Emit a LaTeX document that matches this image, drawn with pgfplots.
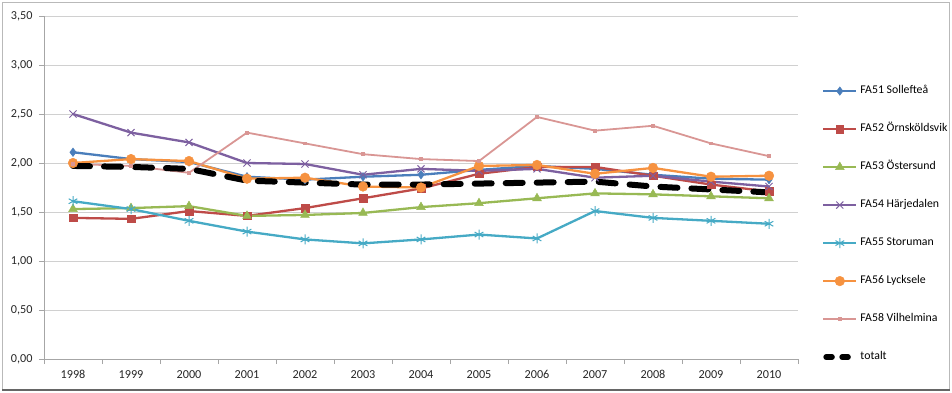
\documentclass[border=0pt]{standalone}
\usepackage{pgfplots}
\pgfplotsset{compat=1.18}
\usepackage{fontspec}
\setmainfont{Carlito}
\definecolor{cBlue}{HTML}{4A7EBB}
\definecolor{cRed}{HTML}{BE4B48}
\definecolor{cGreen}{HTML}{98B954}
\definecolor{cPurple}{HTML}{7D60A0}
\definecolor{cAqua}{HTML}{46AAC5}
\definecolor{cOrange}{HTML}{F69240}
\definecolor{cPink}{HTML}{D99694}
\definecolor{cGrid}{HTML}{D0D0D0}
\definecolor{cAxis}{HTML}{A6A6A6}
\begin{document}
\begin{tikzpicture}[x=1pt,y=1pt]
\path[use as bounding box] (0,0) rectangle (952,392);
\draw[gray!55, line width=1pt] (2.5,2.5) rectangle (949.5,389.5);
\draw[gray!80!black, line width=2pt] (2,2.5) -- (950,2.5);
\begin{axis}[
  at={(44pt,33pt)}, anchor=south west,
  scale only axis, width=754pt, height=343pt,
  xmin=-0.5, xmax=12.5, ymin=0, ymax=3.5,
  axis lines*=left,
  axis line style={cAxis, line width=0.8pt},
  ytick={0,0.5,...,3.5},
  ymajorgrids, grid style={cGrid, line width=0.8pt},
  xtick={0,...,12},
  xticklabels={1998,1999,2000,2001,2002,2003,2004,2005,2006,2007,2008,2009,2010},
  minor xtick={-0.5,0.5,...,12.5},
  major x tick style={draw=none},
  tick align=outside, major tick length=5pt, minor tick length=5pt,
  tick style={cAxis, line width=0.8pt},
  y tick label style={xshift=-3pt, /pgf/number format/.cd, use comma, fixed, fixed zerofill, precision=2},
  x tick label style={yshift=-3pt},
  /pgf/number format/assume math mode=true,
  tick label style={font=\fontsize{12.2}{14}\selectfont, black!85},
  legend style={at={(1.0318,0.797)}, anchor=north west, draw=none, fill=none,
    inner sep=0pt, row sep=27.5pt, font=\fontsize{11.8}{13}\selectfont,
    nodes={inner sep=0pt, text height=8pt, text depth=2.5pt},
    /tikz/every odd column/.append style={column sep=3pt}},
  legend cell align=left,
  legend image code/.code={\draw[mark repeat=2, mark phase=2, #1] plot coordinates {(0pt,0pt)(16.5pt,0pt)(33pt,0pt)};},
]
\addplot[cBlue, line width=2.3pt, mark=diamond*, mark size=4.2pt, mark options={solid, fill=cBlue, line width=0.5pt}]
 coordinates {(0,2.11)(1,2.04)(2,2.01)(3,1.86)(4,1.83)(5,1.86)(6,1.88)(7,1.93)(8,1.97)(9,1.94)(10,1.88)(11,1.84)(12,1.83)};
\addlegendentry{FA51 Sollefteå}
\addplot[cRed, line width=2.3pt, mark=square*, mark size=3.8pt, mark options={solid, fill=cRed, line width=0.5pt}]
 coordinates {(0,1.44)(1,1.43)(2,1.51)(3,1.46)(4,1.54)(5,1.64)(6,1.74)(7,1.89)(8,1.96)(9,1.96)(10,1.87)(11,1.78)(12,1.71)};
\addlegendentry{FA52 Örnsköldsvik}
\addplot[cGreen, line width=2.3pt, mark=triangle*, mark size=5pt, mark options={solid, fill=cGreen, line width=0.5pt}]
 coordinates {(0,1.53)(1,1.54)(2,1.56)(3,1.46)(4,1.47)(5,1.49)(6,1.55)(7,1.59)(8,1.64)(9,1.69)(10,1.68)(11,1.66)(12,1.64)};
\addlegendentry{FA53 Östersund}
\addplot[cPurple, line width=2.3pt, mark=x, mark size=5pt, mark options={solid, line width=1pt}]
 coordinates {(0,2.50)(1,2.31)(2,2.21)(3,2.00)(4,1.99)(5,1.88)(6,1.94)(7,1.92)(8,1.94)(9,1.85)(10,1.87)(11,1.81)(12,1.76)};
\addlegendentry{FA54 Härjedalen}
\addplot[cAqua, line width=2.3pt, mark=asterisk, mark size=5pt, mark options={solid, line width=1pt}]
 coordinates {(0,1.61)(1,1.53)(2,1.41)(3,1.30)(4,1.22)(5,1.18)(6,1.22)(7,1.27)(8,1.23)(9,1.51)(10,1.44)(11,1.41)(12,1.38)};
\addlegendentry{FA55 Storuman}
\addplot[cOrange, line width=2.3pt, mark=*, mark size=4.8pt, mark options={solid, fill=cOrange, line width=0.5pt}]
 coordinates {(0,2.00)(1,2.04)(2,2.02)(3,1.84)(4,1.85)(5,1.76)(6,1.75)(7,1.97)(8,1.98)(9,1.89)(10,1.95)(11,1.86)(12,1.87)};
\addlegendentry{FA56 Lycksele}
\addplot[cPink, line width=1.8pt, mark=square*, mark size=1pt, mark options={solid, fill=cPink}]
 coordinates {(0,1.99)(1,1.97)(2,1.90)(3,2.31)(4,2.20)(5,2.09)(6,2.04)(7,2.02)(8,2.47)(9,2.33)(10,2.38)(11,2.20)(12,2.07)};
\addlegendentry{FA58 Vilhelmina}
\addplot[black, line width=6pt, line cap=round, dash pattern=on 17pt off 14pt,
  legend image code/.code={\draw[black, line width=5.5pt, line cap=round, dash pattern=on 6pt off 10pt] (2.75pt,0pt) -- (28pt,0pt);}]
 coordinates {(0,1.97)(1,1.96)(2,1.94)(3,1.82)(4,1.80)(5,1.78)(6,1.78)(7,1.79)(8,1.80)(9,1.81)(10,1.76)(11,1.73)(12,1.70)};
\addlegendentry{totalt}
\end{axis}
\end{tikzpicture}
\end{document}
